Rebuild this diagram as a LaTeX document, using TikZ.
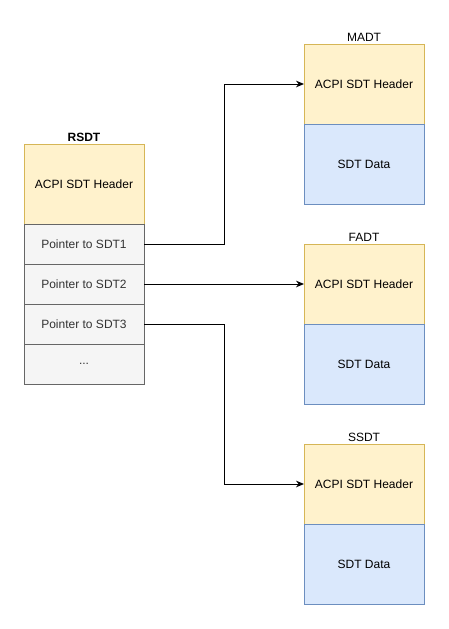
\documentclass[tikz,border=0pt]{standalone}
\usepackage{fontspec}
\setmainfont{Liberation Sans}
\usetikzlibrary{arrows.meta,positioning}
\definecolor{hdrfill}{HTML}{FFF2CC}
\definecolor{hdrdraw}{HTML}{D6B656}
\definecolor{datafill}{HTML}{DAE8FC}
\definecolor{datadraw}{HTML}{6C8EBF}
\definecolor{ptrfill}{HTML}{F5F5F5}
\definecolor{ptrdraw}{HTML}{666666}
\definecolor{ptrtext}{HTML}{333333}

\begin{document}
\begin{tikzpicture}[x=0.75pt, y=-0.75pt, >={Stealth[length=6pt,width=5pt]},
    every node/.style={font=\fontsize{9}{11}\selectfont, outer sep=0pt},
    header/.style={rectangle, draw=hdrdraw, fill=hdrfill, minimum width=90pt, minimum height=60pt},
    sdtdata/.style={rectangle, draw=datadraw, fill=datafill, minimum width=90pt, minimum height=60pt},
    pointer/.style={rectangle, draw=ptrdraw, fill=ptrfill, text=ptrtext, minimum width=90pt, minimum height=30pt},
    title/.style={inner sep=2pt},
    link/.style={->, black, line width=0.75pt}]
      \useasboundingbox (0,0) rectangle (449,629);

      % RSDT
      \node[header] (rsdthdr) at (84,184) {ACPI SDT Header};
      \node[title, above=0pt of rsdthdr, font=\fontsize{9}{11}\selectfont\bfseries] (rsdt) {RSDT};
      \node[pointer, below=0pt of rsdthdr] (ptr1) {Pointer to SDT1};
      \node[pointer, below=0pt of ptr1] (ptr2) {Pointer to SDT2};
      \node[pointer, below=0pt of ptr2] (ptr3) {Pointer to SDT3};
      \node[pointer, below=0pt of ptr3] (more) {...};

      % MADT
      \node[header] (madthdr) at (364,84) {ACPI SDT Header};
      \node[title, above=0pt of madthdr] (madt) {MADT};
      \node[sdtdata, below=0pt of madthdr] (madtdata) {SDT Data};

      % FADT
      \node[header] (fadthdr) at (364,284) {ACPI SDT Header};
      \node[title, above=0pt of fadthdr] (fadt) {FADT};
      \node[sdtdata, below=0pt of fadthdr] (fadtdata) {SDT Data};

      % SSDT
      \node[header] (ssdthdr) at (364,484) {ACPI SDT Header};
      \node[title, above=0pt of ssdthdr] (ssdt) {SSDT};
      \node[sdtdata, below=0pt of ssdthdr] (ssdtdata) {SDT Data};

      % Pointers
      \draw[link] (ptr1.east) -- ++(60pt,0) |- (madthdr.west);
      \draw[link] (ptr2.east) -- (fadthdr.west);
      \draw[link] (ptr3.east) -- ++(60pt,0) |- (ssdthdr.west);

    \end{tikzpicture}
\end{document}
